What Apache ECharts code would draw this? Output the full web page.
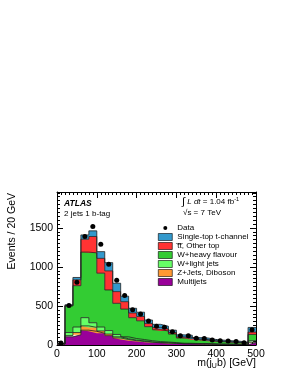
<!DOCTYPE html>
<html><head><meta charset="utf-8">
<script src="https://cdn.jsdelivr.net/npm/echarts@6/dist/echarts.min.js"></script>
<style>html,body{margin:0;padding:0;background:#fff}#c{width:291px;height:376px}</style>
</head><body><div id="c"></div>
<script>
// bin edges (GeV) and bin centres
const edges = ['0','20','40','60','80','100','120','140','160','180','200','220','240','260','280','300','320','340','360','380','400','420','440','460','480','500'];
const binCenters = [10,30,50,70,90,110,130,150,170,190,210,230,250,270,290,310,330,350,370,390,410,430,450,470,490];
const xTicks = [0,100,200,300,400,500];
const yTicks = [0,500,1000,1500];

// stacked backgrounds (events per bin), bottom to top
const multijets = [10,105,130,190,175,150,120,90,70,55,45,35,28,25,20,15,14,12,11,9,8,7,6,5,30];
const zjets     = [2,15,30,55,50,30,20,15,10,8,7,5,4,3,3,2,2,2,2,1,1,1,1,1,5];
const wlight    = [3,40,70,105,60,50,45,30,25,20,18,15,12,10,8,6,6,5,5,4,3,3,3,2,20];
const wheavy    = [5,340,530,840,895,690,520,399,355,267,240,180,151,142,109,67,66,46,44,34,30,26,22,15,80];
const ttbar     = [0,5,75,165,210,190,245,150,95,60,55,40,30,25,20,15,12,10,8,7,6,5,4,3,30];
const stop      = [0,10,30,55,72,86,105,107,70,60,55,45,40,35,30,25,25,20,20,15,14,13,12,9,60];
const dataVals  = [25,505,805,1390,1517,1291,1035,830,633,450,397,308,240,227,171,120,118,85,83,64,55,50,45,30,195];

const names = ['Multijets','Z+Jets, Diboson','W+light jets','W+heavy flavour','t\u0305t\u0305, Other top','Single-top t-channel'];
const colors = ['#990099','#ff9933','#66ff66','#33cc33','#ff3333','#3399cc'];
const stacks = [multijets,zjets,wlight,wheavy,ttbar,stop];

const FONT = 'Liberation Sans, Arial, Helvetica, sans-serif';
const chart = echarts.init(document.getElementById('c'), null, {renderer:'canvas'});

const grid = {left:57, right:35, top:192, bottom:31, containLabel:false};
const tickCommon = {show:true, inside:true, length:6, lineStyle:{color:'#000', width:1}};
const minorCommon = {show:true, splitNumber:10, length:3, lineStyle:{color:'#000', width:1}};
const plain = v => String(v);

const series = stacks.map((v,i)=>({
  name:names[i], type:'line', stack:'bg', step:'end', xAxisIndex:0, yAxisIndex:0,
  symbol:'none', smooth:false, silent:true,
  data: v.concat([v[v.length-1]]),
  lineStyle:{color:'#222', width:0.8},
  areaStyle:{color:colors[i], opacity:1},
  z:2
}));
series.push({
  name:'Data', type:'scatter', xAxisIndex:1, yAxisIndex:0,
  symbol:'circle', symbolSize:5, itemStyle:{color:'#000', opacity:1}, silent:true,
  data: binCenters.map((x,i)=>[x,dataVals[i]]), z:5
});

const legendData = [{name:'Data', icon:'path://M0 0M14 7M5 3.5a2 2 0 1 0 4 0a2 2 0 1 0 -4 0', itemStyle:{color:'#000', borderWidth:0}}];
for (let i=names.length-1;i>=0;i--) legendData.push({name:names[i], icon:'rect', itemStyle:{color:colors[i], borderColor:'#000', borderWidth:0.6}});

chart.setOption({
  animation:false,
  grid:grid,
  xAxis:[
    {type:'category', data:edges, boundaryGap:false, show:false},
    {type:'value', min:0, max:500, interval:100, position:'bottom',
     axisLine:{show:true, onZero:false, lineStyle:{color:'#000', width:1}},
     axisTick:tickCommon, minorTick:minorCommon, splitLine:{show:false},
     axisLabel:{show:true, margin:4, fontSize:10.5, color:'#000', fontFamily:FONT, formatter:plain}},
    {type:'value', min:0, max:500, interval:100, position:'top',
     axisLine:{show:true, onZero:false, lineStyle:{color:'#000', width:1}},
     axisTick:tickCommon, minorTick:minorCommon, splitLine:{show:false}, axisLabel:{show:false}}
  ],
  yAxis:[
    {type:'value', min:0, max:1960, interval:500, position:'left',
     axisLine:{show:true, onZero:false, lineStyle:{color:'#000', width:1}},
     axisTick:tickCommon, minorTick:minorCommon, splitLine:{show:false},
     axisLabel:{show:true, margin:4, fontSize:10.5, color:'#000', fontFamily:FONT, showMaxLabel:false,
       formatter: v => (yTicks.indexOf(v) >= 0 ? String(v) : '')}},
    {type:'value', min:0, max:1960, interval:500, position:'right',
     axisLine:{show:true, onZero:false, lineStyle:{color:'#000', width:1}},
     axisTick:tickCommon, minorTick:minorCommon, splitLine:{show:false}, axisLabel:{show:false}}
  ],
  legend:{
    orient:'vertical', left:158, top:224, itemWidth:14, itemHeight:7, itemGap:1, padding:0,
    selectedMode:false, data:legendData,
    textStyle:{fontSize:8, color:'#000', fontFamily:FONT}
  },
  series:series,
  graphic:[
    {type:'text', left:64, top:199, style:{text:'ATLAS', font:'italic bold 8.5px '+FONT, fill:'#000'}},
    {type:'text', left:64, top:210, style:{text:'2 jets 1 b-tag', font:'8px '+FONT, fill:'#000'}},
    {type:'text', left:182, top:196, style:{
      text:'{int|\u222B} {it|L dt} = 1.04 fb{sup|-1}',
      font:'8px '+FONT, fill:'#000',
      rich:{int:{fontSize:11, fontFamily:FONT}, it:{fontStyle:'italic', fontSize:8, fontFamily:FONT}, sup:{fontSize:5.5, verticalAlign:'top', padding:[0,0,4,0], fontFamily:FONT}}
    }},
    {type:'text', left:183, top:209, style:{text:'\u221As = 7 TeV', font:'8px '+FONT, fill:'#000'}},
    {type:'text', x:12, y:193, rotation:Math.PI/2, style:{text:'Events / 20 GeV', font:'10.5px '+FONT, fill:'#000', align:'right', verticalAlign:'middle'}},
    {type:'text', right:35, top:358, style:{
      text:'m(j{sub|U}b) [GeV]', font:'10.5px '+FONT, fill:'#000',
      rich:{sub:{fontSize:7, verticalAlign:'bottom', padding:[5,0,0,0], fontFamily:FONT}}
    }}
  ]
});
</script></body></html>
